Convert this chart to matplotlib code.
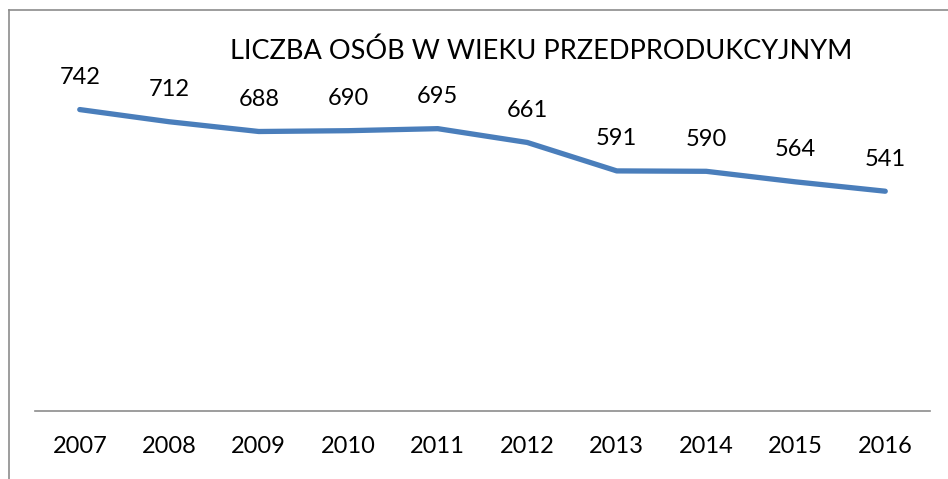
from matplotlib import pyplot as plt
from matplotlib.lines import Line2D
import numpy as np

years = ['2007', '2008', '2009', '2010', '2011', '2012', '2013', '2014', '2015', '2016']
values = [742, 712, 688, 690, 695, 661, 591, 590, 564, 541]
title = 'LICZBA OSÓB W WIEKU PRZEDPRODUKCYJNYM'


def draw_plot():
    plt.rcParams['font.family'] = ['Lato', 'DejaVu Sans']

    W, H = 948, 479
    fig = plt.figure(figsize=(W / 100, H / 100), dpi=100)

    # chart frame (only top and left edges visible in the crop)
    fig.add_artist(Line2D([8.5 / W, 1], [1 - 10 / H, 1 - 10 / H], color='#8c8c8c', lw=1.2))
    fig.add_artist(Line2D([8.5 / W, 8.5 / W], [0, 1 - 10 / H], color='#8c8c8c', lw=1.2))

    ax = fig.add_axes([35 / W, (H - 411) / H, (930 - 35) / W, (411 - 86) / H])
    x_pos = np.arange(len(years))
    ax.plot(x_pos, values, color='#4a7ebb', lw=3.8, solid_capstyle='round', solid_joinstyle='round')

    for x, v in zip(x_pos, values):
        ax.annotate(str(v), (x, v), xytext=(0, 23), textcoords='offset points',
                    ha='center', va='center', fontsize=17)

    ax.set_xlim(-0.5, len(years) - 0.5)
    ax.set_ylim(0, 800)
    ax.set_xticks(x_pos)
    ax.set_xticklabels(years, fontsize=17)
    ax.tick_params(axis='x', length=0, pad=18)
    ax.set_yticks([])
    for s in ['top', 'right', 'left']:
        ax.spines[s].set_visible(False)
    ax.spines['bottom'].set_color('#8c8c8c')
    ax.spines['bottom'].set_linewidth(1.2)
    ax.patch.set_alpha(0)

    fig.text(541 / W, 1 - 51 / H, title, ha='center', va='center', fontsize=19.5)

    fig.savefig('out.png', dpi=100)


if __name__ == "__main__":
    draw_plot()
